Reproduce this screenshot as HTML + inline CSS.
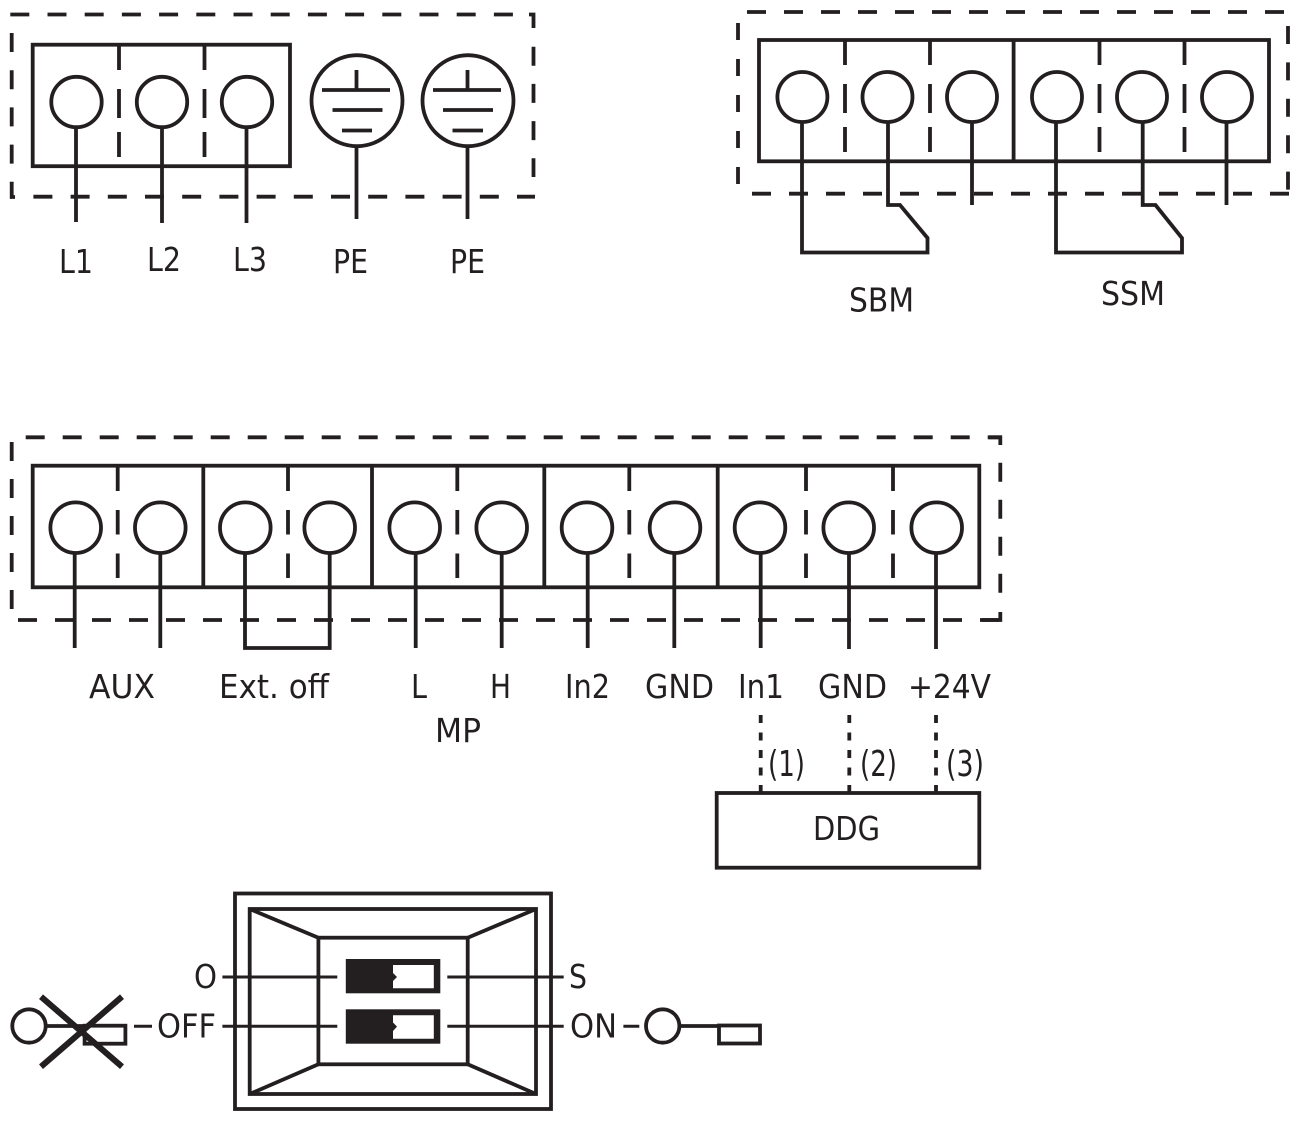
<!DOCTYPE html>
<html><head><meta charset="utf-8"><style>
html,body{margin:0;padding:0;background:#fff;width:1300px;height:1121px;overflow:hidden}
svg{display:block}
text{font-family:"DejaVu Sans","Liberation Sans",sans-serif;font-size:33px;fill:#231f20;stroke:none}
text.p{font-size:36px}
</style></head><body>
<svg width="1300" height="1121" viewBox="0 0 1300 1121" xmlns="http://www.w3.org/2000/svg">
<g fill="none" stroke="#231f20" stroke-width="3.8">
<!-- panel 1 dashed -->
<g stroke-dasharray="19 18.2">
<line x1="10.3" y1="14.5" x2="514" y2="14.5"/>
<line x1="33.4" y1="196.7" x2="535" y2="196.7"/>
<line x1="11.7" y1="33" x2="11.7" y2="183"/>
<line x1="533.5" y1="46.7" x2="533.5" y2="177"/>
</g>
<path d="M529 14.5H533.5V28M11.7 182V197H15"/>
<!-- panel 1 body -->
<rect x="32.7" y="44.7" width="257.3" height="121.5"/>
<g stroke-dasharray="25 19 29 14 25">
<line x1="119" y1="45" x2="119" y2="157"/>
<line x1="204.5" y1="45" x2="204.5" y2="157"/>
</g>
<circle cx="76.5" cy="102" r="25.2"/><circle cx="162" cy="102" r="25.2"/><circle cx="247" cy="102" r="25.2"/>
<path d="M76 127V222M162 127V223M246.5 127V223"/>
<circle cx="357" cy="100.7" r="45.5"/><circle cx="468" cy="100.7" r="45.5"/>
<path d="M356.5 146V219M467.5 146V219M356.5 70V90M467.5 70V90"/>
<path d="M322 90H390M332.5 110H382.5M342 130.5H372M433 90H501M443 110H493M452.5 130.5H483"/>
<!-- panel 2 dashed -->
<g stroke-dasharray="19 18">
<line x1="747" y1="12" x2="1285" y2="12"/>
<line x1="752" y1="193.7" x2="1289" y2="193.7"/>
<line x1="738" y1="23" x2="738" y2="189" stroke-dasharray="17 19"/>
<line x1="1288" y1="26" x2="1288" y2="194" stroke-dasharray="18 18.4"/>
</g>
<!-- panel 2 body -->
<rect x="759" y="40" width="510" height="121.3"/>
<line x1="1013.6" y1="40" x2="1013.6" y2="161"/>
<g stroke-dasharray="25 19 29 14 25">
<line x1="845" y1="40" x2="845" y2="152"/><line x1="930" y1="40" x2="930" y2="152"/>
<line x1="1099.5" y1="40" x2="1099.5" y2="152"/><line x1="1184.5" y1="40" x2="1184.5" y2="152"/>
</g>
<circle cx="802.4" cy="97" r="25"/><circle cx="887.5" cy="97" r="25"/><circle cx="972" cy="97" r="25"/>
<circle cx="1057" cy="97" r="25"/><circle cx="1142" cy="97" r="25"/><circle cx="1227" cy="97" r="25"/>
<path d="M972 122V205M1226.5 122V205"/>
<path d="M802 122V252.5H927.5V238L900 205H888V122"/>
<path d="M1056 122V252.5H1182V238L1155.5 205H1142.7V122"/>
<!-- panel 3 dashed -->
<g stroke-dasharray="19 18">
<line x1="25.7" y1="437.3" x2="1001.5" y2="437.3"/>
<line x1="18" y1="620" x2="1001.5" y2="620"/>
<line x1="11.7" y1="442" x2="11.7" y2="609"/>
<line x1="1000.3" y1="462.7" x2="1000.3" y2="594"/>
</g>
<path d="M989 437.3H1000.3V445M1000.3 612V620H982"/>
<!-- panel 3 body -->
<rect x="32.7" y="465.7" width="946.6" height="121.6"/>
<path d="M203.3 466V587M372 466V587M544.3 466V587M717.7 466V587"/>
<g stroke-dasharray="24.5 19 24.5 19 24.5">
<line x1="117.7" y1="466.5" x2="117.7" y2="578"/>
<line x1="288" y1="466.5" x2="288" y2="578"/>
<line x1="457.3" y1="466.5" x2="457.3" y2="578"/>
<line x1="629.3" y1="466.5" x2="629.3" y2="578"/>
<line x1="806" y1="466.5" x2="806" y2="578"/>
<line x1="893" y1="466.5" x2="893" y2="578"/>
</g>
<circle cx="75.7" cy="527.7" r="25.3"/><circle cx="160.3" cy="527.7" r="25.3"/>
<circle cx="245.3" cy="527.7" r="25.3"/><circle cx="329.7" cy="527.7" r="25.3"/>
<circle cx="414.7" cy="527.7" r="25.3"/><circle cx="501.7" cy="527.7" r="25.3"/>
<circle cx="587" cy="527.7" r="25.3"/><circle cx="675" cy="527.7" r="25.3"/>
<circle cx="760" cy="527.7" r="25.3"/><circle cx="848.7" cy="527.7" r="25.3"/>
<circle cx="936.7" cy="527.7" r="25.3"/>
<path d="M74.7 553V648M160.3 553V648M415.7 553V648M501.7 553V648M587.7 553V648M674.3 553V648M760.7 553V648M849 553V649M936 553V649"/>
<path d="M245 553V648H329.7V553"/>
<!-- DDG -->
<g stroke-dasharray="8 9.5">
<line x1="760.7" y1="715" x2="760.7" y2="793"/>
<line x1="849.3" y1="715" x2="849.3" y2="793"/>
<line x1="936" y1="715" x2="936" y2="793"/>
</g>
<rect x="716.7" y="793" width="262.6" height="74.7"/>
<!-- switch block -->
<rect x="235" y="893.5" width="316" height="215.5"/>
<rect x="249.7" y="909" width="286.3" height="185"/>
<rect x="318.4" y="937.7" width="149.3" height="126.6"/>
<path d="M249.7 909L318.4 937.7M536 909L467.7 937.7M249.7 1094L318.4 1064.3M536 1094L467.7 1064.3"/>
<g stroke-width="3">
<path d="M222.4 977H337.3M447.3 977H563.7M222.4 1026.3H337.3M447.3 1026.3H563.7"/>
<path d="M134 1026.3H152M623.4 1026.3H639.3"/>
</g>
<circle cx="29" cy="1026" r="16.7"/>
<path d="M46 1026H85"/>
<rect x="84.6" y="1025.7" width="40.8" height="18"/>
<path d="M41 996.7L122 1066.7M122 996.7L41 1066.7" stroke-width="6"/>
<circle cx="662.7" cy="1026" r="16.7"/>
<path d="M679.5 1026H719"/>
<rect x="719" y="1025.5" width="41" height="18"/>
</g>
<!-- switches -->
<g fill="#231f20">
<rect x="345.8" y="959" width="94.5" height="34.3"/>
<rect x="345.8" y="1009.3" width="94.5" height="34.4"/>
</g>
<g fill="#fff">
<path d="M393 965H433.8V988.3H393V981L397 977L393 973Z"/>
<path d="M393 1015.3H433.8V1038.7H393V1031L397 1026.6L393 1022.5Z"/>
</g>
<!-- labels -->
<text x="59" y="273" textLength="34" lengthAdjust="spacingAndGlyphs">L1</text>
<text x="147" y="271" textLength="34" lengthAdjust="spacingAndGlyphs">L2</text>
<text x="233" y="271" textLength="34" lengthAdjust="spacingAndGlyphs">L3</text>
<text x="333" y="273" textLength="35" lengthAdjust="spacingAndGlyphs">PE</text>
<text x="450" y="273" textLength="35" lengthAdjust="spacingAndGlyphs">PE</text>
<text x="849" y="311.5" textLength="65" lengthAdjust="spacingAndGlyphs">SBM</text>
<text x="1101" y="305" textLength="64" lengthAdjust="spacingAndGlyphs">SSM</text>
<text x="89" y="698" textLength="66" lengthAdjust="spacingAndGlyphs">AUX</text>
<text x="219" y="698" textLength="110" lengthAdjust="spacingAndGlyphs">Ext. off</text>
<text x="411" y="698" textLength="16" lengthAdjust="spacingAndGlyphs">L</text>
<text x="490" y="698" textLength="21" lengthAdjust="spacingAndGlyphs">H</text>
<text x="565" y="698" textLength="45" lengthAdjust="spacingAndGlyphs">In2</text>
<text x="645" y="698" textLength="69" lengthAdjust="spacingAndGlyphs">GND</text>
<text x="738" y="698" textLength="46" lengthAdjust="spacingAndGlyphs">In1</text>
<text x="818" y="698" textLength="69" lengthAdjust="spacingAndGlyphs">GND</text>
<text x="908" y="698" textLength="83" lengthAdjust="spacingAndGlyphs">+24V</text>
<text x="435" y="742" textLength="46" lengthAdjust="spacingAndGlyphs">MP</text>
<text class="p" x="768" y="776" textLength="37" lengthAdjust="spacingAndGlyphs">(1)</text>
<text class="p" x="860" y="776" textLength="37" lengthAdjust="spacingAndGlyphs">(2)</text>
<text class="p" x="946" y="776" textLength="38" lengthAdjust="spacingAndGlyphs">(3)</text>
<text x="813" y="840" textLength="67" lengthAdjust="spacingAndGlyphs">DDG</text>
<text x="194" y="988" textLength="23" lengthAdjust="spacingAndGlyphs">O</text>
<text x="569" y="988" textLength="18" lengthAdjust="spacingAndGlyphs">S</text>
<text x="157" y="1037.5" textLength="59" lengthAdjust="spacingAndGlyphs">OFF</text>
<text x="570" y="1037.5" textLength="47" lengthAdjust="spacingAndGlyphs">ON</text>
</svg>
</body></html>
